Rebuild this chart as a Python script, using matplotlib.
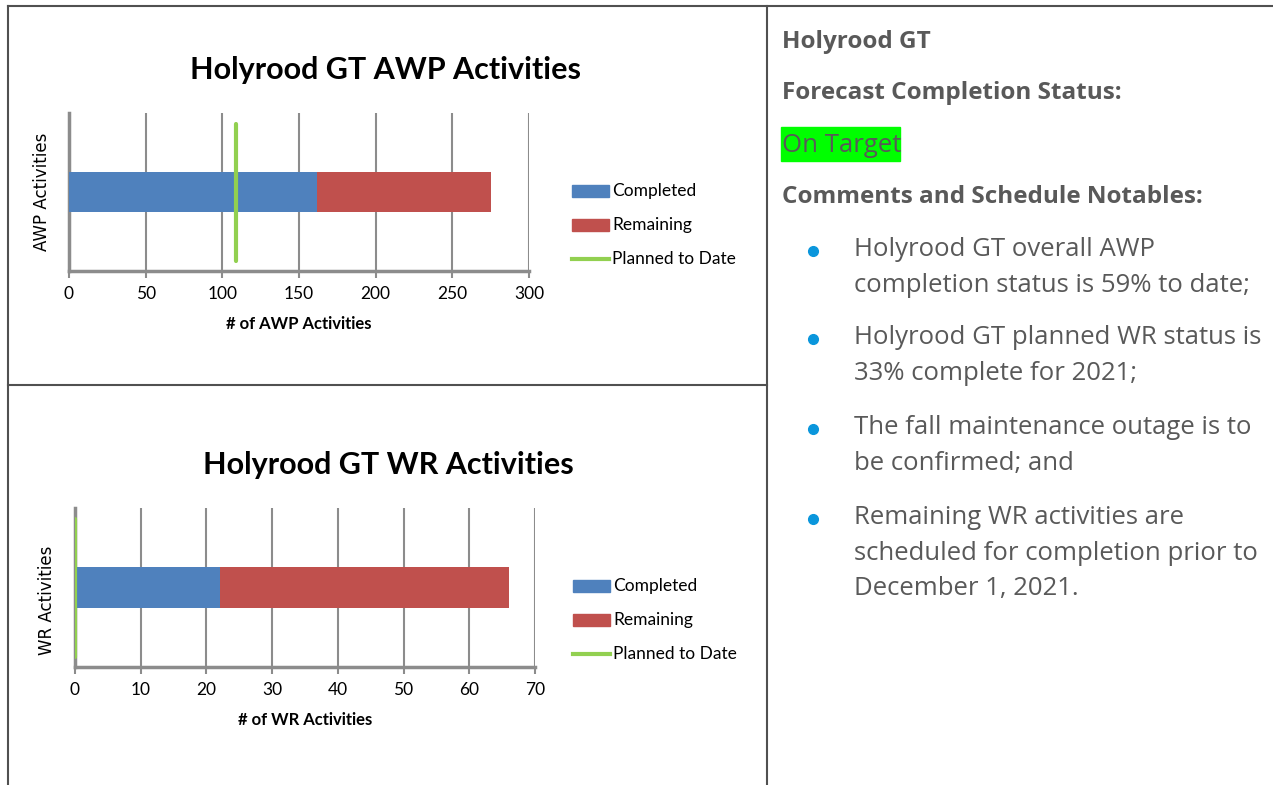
import matplotlib
matplotlib.use("Agg")
import matplotlib.pyplot as plt
from matplotlib.lines import Line2D
from matplotlib.patches import Rectangle
from matplotlib import font_manager

# ---------------- data ----------------
awp_completed = [162]
awp_remaining = [113]
awp_planned = 109
awp_ticks = [0, 50, 100, 150, 200, 250, 300]

wr_completed = [22]
wr_remaining = [44]
wr_planned = 0
wr_ticks = [0, 10, 20, 30, 40, 50, 60, 70]

legend_labels = ["Completed", "Remaining", "Planned to Date"]

panel_title = "Holyrood GT"
status_head = "Forecast Completion Status:"
status_value = "On Target"
comments_head = "Comments and Schedule Notables:"
bullets = [
    ["Holyrood GT overall AWP", "completion status is 59% to date;"],
    ["Holyrood GT planned WR status is", "33% complete for 2021;"],
    ["The fall maintenance outage is to", "be confirmed; and"],
    ["Remaining WR activities are", "scheduled for completion prior to", "December 1, 2021."],
]

# ---------------- style ----------------
W, H = 1273, 785
BLUE = "#4F81BD"
RED = "#C0504D"
GREEN = "#92D050"
GRID = "#8C8C8C"
TXT = "#595959"

avail = {f.name for f in font_manager.fontManager.ttflist}
chart_font = "Liberation Sans Narrow" if "Liberation Sans Narrow" in avail else "Lato"
panel_font = "Open Sans"

fig = plt.figure(figsize=(W / 100, H / 100), dpi=100)
fig.patch.set_facecolor("white")

def fx(x):
    return x / W

def fy(y):
    return 1 - y / H

def axes_px(left, top, right, bottom):
    return fig.add_axes([fx(left), fy(bottom), (right - left) / W, (bottom - top) / H])

# table borders
border_kw = dict(color="#505050", lw=1.5, transform=fig.transFigure)
fig.add_artist(Line2D([fx(8), 1], [fy(6), fy(6)], **border_kw))
fig.add_artist(Line2D([fx(8), fx(8)], [fy(6), 0], **border_kw))
fig.add_artist(Line2D([fx(767), fx(767)], [fy(6), 0], **border_kw))
fig.add_artist(Line2D([fx(8), fx(767)], [fy(385), fy(385)], **border_kw))


def draw_chart(ax, completed, remaining, planned, ticks, title, ylabel, xlabel,
               title_xy, ylabel_xy, legend_xy):
    ax.set_xlim(ticks[0], ticks[-1])
    ax.set_ylim(0, 1)
    ax.barh([0.5], completed, height=0.255, color=BLUE, zorder=3)
    ax.barh([0.5], remaining, left=completed, height=0.255, color=RED, zorder=3)
    ax.plot([planned, planned], [0.065, 0.93], color=GREEN, lw=3,
            solid_capstyle="round", zorder=4)
    ax.set_xticks(ticks)
    ax.set_xticklabels([str(t) for t in ticks], fontsize=12.5, family=chart_font)
    ax.set_yticks([])
    ax.grid(axis="x", color=GRID, lw=1.5, zorder=0)
    for s in ["top", "right"]:
        ax.spines[s].set_visible(False)
    for s in ["left", "bottom"]:
        ax.spines[s].set_color(GRID)
        ax.spines[s].set_linewidth(2.5)
    ax.tick_params(axis="x", length=5, width=1.5, color=GRID, pad=6, labelcolor="black")
    ax.set_xlabel(xlabel, fontsize=12, fontweight="bold", family=chart_font, labelpad=10)
    fig.text(fx(title_xy[0]), fy(title_xy[1]), title, ha="center", va="center",
             fontsize=22, fontweight="bold", family=chart_font)
    fig.text(fx(ylabel_xy[0]), fy(ylabel_xy[1]), ylabel, ha="center", va="center",
             rotation=90, fontsize=12, family="DejaVu Sans")
    # legend
    lx, ly = legend_xy
    handles = [(BLUE, "patch"), (RED, "patch"), (GREEN, "line")]
    for i, (lab, (col, kind)) in enumerate(zip(legend_labels, handles)):
        yy = ly + i * 34
        if kind == "patch":
            fig.add_artist(Rectangle((fx(lx), fy(yy + 6)), 37 / W, 12 / H,
                                     color=col, transform=fig.transFigure))
        else:
            fig.add_artist(Line2D([fx(lx), fx(lx + 37)], [fy(yy), fy(yy)], color=col,
                                  lw=3, transform=fig.transFigure))
        fig.text(fx(lx + 40), fy(yy), lab, ha="left", va="center", fontsize=12.5,
                 family=chart_font)


ax1 = axes_px(69, 113, 529, 271)
draw_chart(ax1, awp_completed, awp_remaining, awp_planned, awp_ticks,
           "Holyrood GT AWP Activities", "AWP Activities", "# of AWP Activities",
           (385, 70), (42, 192), (572, 191))

ax2 = axes_px(75, 508, 535, 667)
draw_chart(ax2, wr_completed, wr_remaining, wr_planned, wr_ticks,
           "Holyrood GT WR Activities", "WR Activities", "# of WR Activities",
           (388, 465), (47, 600), (573, 586))

# right panel text
HEAD_FS = 17.5
BODY_FS = 18.5
fig.text(fx(782), fy(42), panel_title, ha="left", va="center", fontsize=HEAD_FS,
         fontweight="bold", color=TXT, family=panel_font)
fig.text(fx(782), fy(93), status_head, ha="left", va="center", fontsize=HEAD_FS,
         fontweight="bold", color=TXT, family=panel_font)
fig.add_artist(Rectangle((fx(781), fy(161)), 119 / W, 34 / H, color="#00FF00",
                         transform=fig.transFigure))
fig.text(fx(782), fy(145), status_value, ha="left", va="center", fontsize=BODY_FS,
         color=TXT, family=panel_font)
fig.text(fx(782), fy(197), comments_head, ha="left", va="center", fontsize=HEAD_FS,
         fontweight="bold", color=TXT, family=panel_font)

starts = [250, 338, 428, 518]
for lines, y0 in zip(bullets, starts):
    fig.add_artist(Line2D([fx(813)], [fy(y0 + 1)], marker="o", markersize=7,
                          color="#0A96DC", transform=fig.transFigure))
    for j, line in enumerate(lines):
        fig.text(fx(854), fy(y0 + j * 35.5), line, ha="left", va="center",
                 fontsize=BODY_FS, color=TXT, family=panel_font)

fig.savefig("out.png", dpi=100, facecolor="white")
